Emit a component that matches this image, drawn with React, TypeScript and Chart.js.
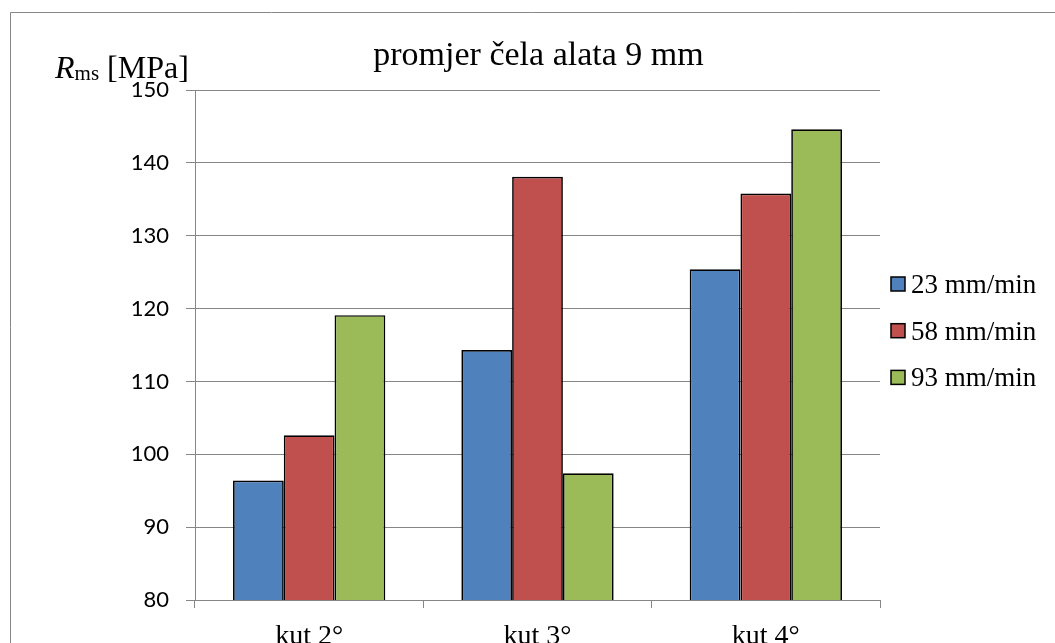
import React, { useEffect, useRef } from "react";
import { Chart, registerables } from "chart.js";

Chart.register(...registerables);

const categories = ["kut 2°", "kut 3°", "kut 4°"];
const seriesNames = ["23 mm/min", "58 mm/min", "93 mm/min"];
const series23 = [96.4, 114.3, 125.4];
const series58 = [102.6, 138.1, 135.8];
const series93 = [119.1, 97.4, 144.6];
const seriesColors = ["#4F81BD", "#C0504D", "#9BBB59"];
const yMin = 80;
const yMax = 150;
const yStep = 10;
const titleText = "promjer čela alata 9 mm";

const SERIF = "'Liberation Serif', 'Times New Roman', serif";
const GRID = "#868686";

const decorPlugin = {
  id: "decor",
  afterDraw(chart: any) {
    const ctx = chart.ctx;
    const area = chart.chartArea;
    ctx.save();
    // outer frame (top & left)
    ctx.strokeStyle = "#878787";
    ctx.lineWidth = 1;
    ctx.beginPath();
    ctx.moveTo(10.5, 643);
    ctx.lineTo(10.5, 12.5);
    ctx.lineTo(1055, 12.5);
    ctx.stroke();

    // title
    ctx.fillStyle = "#000";
    ctx.font = `34px ${SERIF}`;
    ctx.textAlign = "center";
    ctx.textBaseline = "alphabetic";
    ctx.fillText(titleText, (area.left + area.right) / 2 + 1, 65);

    // y axis title: R_ms [MPa]
    ctx.textAlign = "left";
    let x = 55;
    ctx.font = `italic 32px ${SERIF}`;
    ctx.fillText("R", x, 78);
    x += ctx.measureText("R").width;
    ctx.font = `21px ${SERIF}`;
    ctx.fillText("ms", x, 80);
    x += ctx.measureText("ms").width;
    ctx.font = `32px ${SERIF}`;
    ctx.fillText(" [MPa]", x, 78);

    // legend
    const ds = chart.data.datasets;
    ctx.font = `27px ${SERIF}`;
    ds.forEach((d: any, i: number) => {
      const cy = 284 + i * 46.7;
      ctx.fillStyle = d.backgroundColor;
      ctx.fillRect(891, cy - 7, 14, 14);
      ctx.strokeStyle = "#000";
      ctx.lineWidth = 1.5;
      ctx.strokeRect(891, cy - 7, 14, 14);
      ctx.fillStyle = "#000";
      ctx.textAlign = "left";
      ctx.textBaseline = "alphabetic";
      ctx.fillText(d.label, 911, cy + 9);
    });
    ctx.restore();
  },
};

export default function App() {
  const ref = useRef<HTMLCanvasElement>(null);
  useEffect(() => {
    document.body.style.margin = "0";
    const datasets = [series23, series58, series93].map((vals, i) => ({
      label: seriesNames[i],
      data: vals,
      backgroundColor: seriesColors[i],
      borderColor: "#000",
      borderWidth: 1.7,
      barPercentage: 1,
      categoryPercentage: 0.667,
    }));
    const chart = new Chart(ref.current as HTMLCanvasElement, {
      type: "bar",
      data: { labels: categories, datasets },
      options: {
        animation: false,
        responsive: false,
        devicePixelRatio: 1,
        layout: { padding: { left: 0, top: 90, right: 175, bottom: 0 } },
        plugins: {
          legend: { display: false },
          title: { display: false },
          tooltip: { enabled: false },
        },
        scales: {
          x: {
            offset: true,
            grid: {
              display: true,
              drawOnChartArea: false,
              drawTicks: true,
              tickLength: 8,
              color: GRID,
              offset: true,
            },
            border: { display: true, color: GRID, width: 1 },
            ticks: {
              color: "#000",
              font: { family: SERIF, size: 28 },
              padding: 12,
              maxRotation: 0,
            },
            afterFit: (s: any) => {
              s.height = 43;
            },
          },
          y: {
            min: yMin,
            max: yMax,
            grid: { color: GRID, lineWidth: 1, tickLength: 9, drawTicks: true },
            border: { display: true, color: GRID, width: 1 },
            ticks: {
              stepSize: yStep,
              color: "#000",
              font: { family: "Lato, 'Open Sans', sans-serif", size: 22 },
              padding: 17,
            },
            afterFit: (s: any) => {
              s.width = 195;
            },
          },
        },
      },
      plugins: [decorPlugin],
    });
    return () => chart.destroy();
  }, []);
  return (
    <div style={{ position: "absolute", left: 0, top: 0, width: 1055, height: 643 }}>
      <canvas ref={ref} width={1055} height={643} />
    </div>
  );
}
